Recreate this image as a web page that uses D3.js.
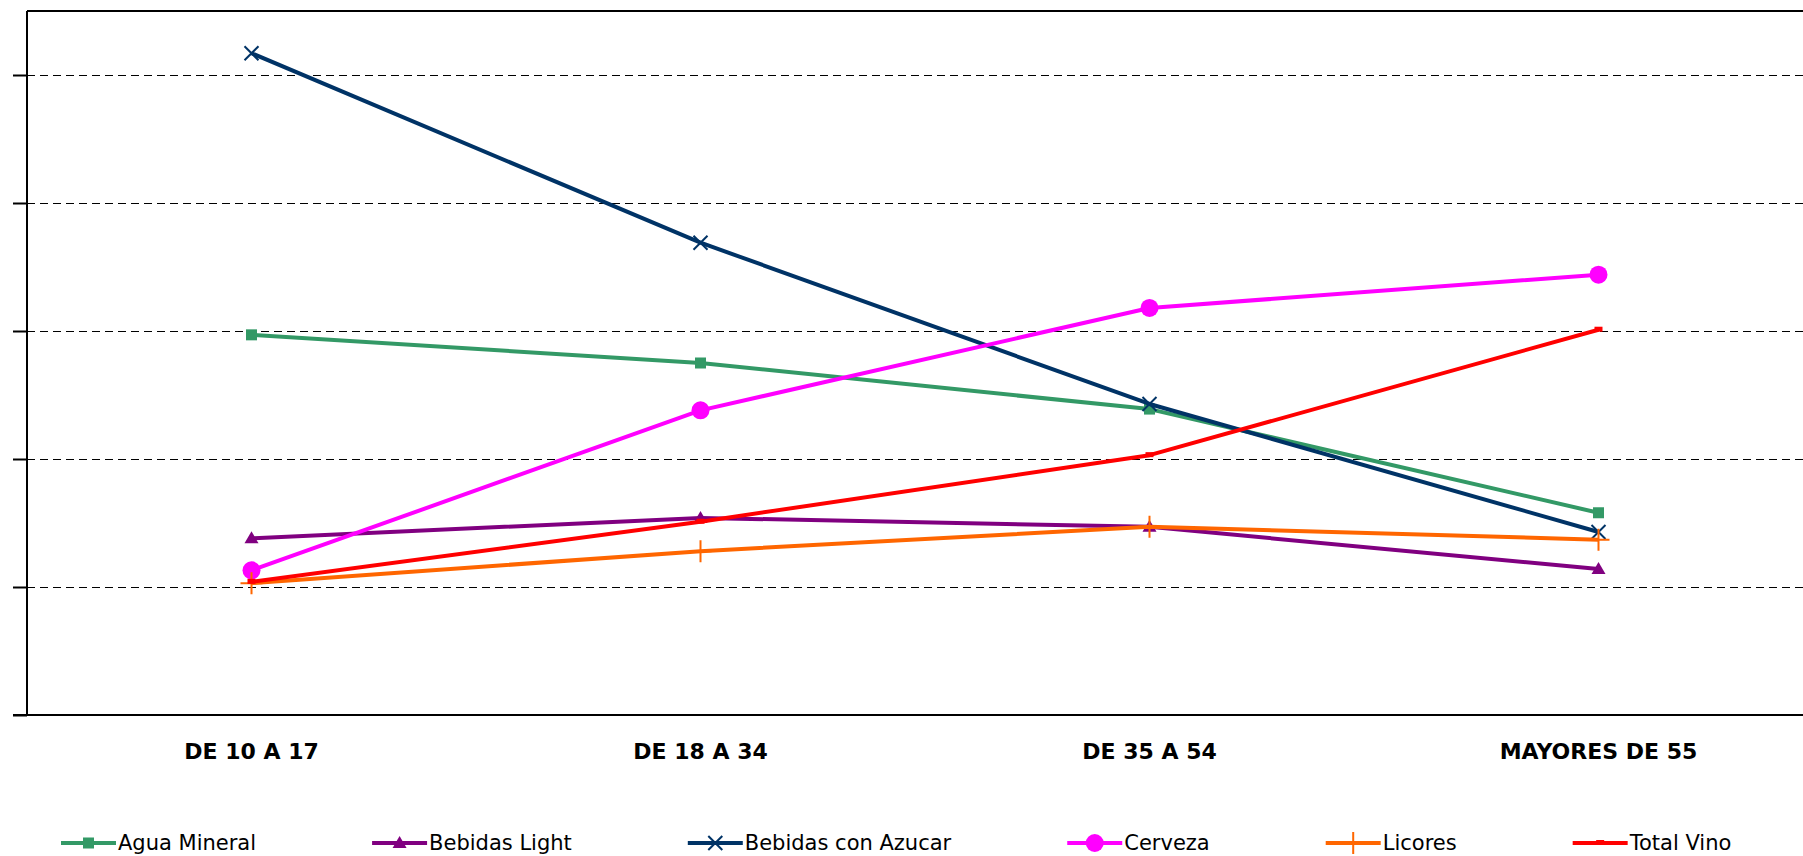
<!DOCTYPE html>
<html>
<head>
<meta charset="utf-8">
<script src="https://cdn.jsdelivr.net/npm/d3@7"></script>
<style>
  html, body { margin: 0; padding: 0; background: #fff; }
  svg { display: block; }
</style>
</head>
<body>
<div id="chart"></div>
<script>
// age groups on the x axis
const categories = ["DE 10 A 17", "DE 18 A 34", "DE 35 A 54", "MAYORES DE 55"];

// series values (no y labels shown, units are grid steps)
const aguaMineral = [2.97, 2.75, 2.39, 1.58];
const bebidasLight = [1.38, 1.54, 1.47, 1.14];
const bebidasAzucar = [5.17, 3.69, 2.43, 1.43];
const cerveza = [1.13, 2.38, 3.18, 3.44];
const licores = [1.03, 1.28, 1.47, 1.37];
const totalVino = [1.04, 1.51, 2.03, 3.01];

const yTicks = [0, 1, 2, 3, 4, 5];

const series = [
  { name: "Agua Mineral", values: aguaMineral, color: "#339966", marker: "square" },
  { name: "Bebidas Light", values: bebidasLight, color: "#800080", marker: "triangle" },
  { name: "Bebidas con Azucar", values: bebidasAzucar, color: "#003366", marker: "x" },
  { name: "Cerveza", values: cerveza, color: "#ff00ff", marker: "circle" },
  { name: "Licores", values: licores, color: "#ff6600", marker: "plus" },
  { name: "Total Vino", values: totalVino, color: "#ff0000", marker: "dash" },
];

const width = 1803;
const height = 856;
const margin = { top: 11, left: 27, bottom: 141 };
const plotRight = 1823; // plot area runs past the right edge of the window

const svg = d3
  .select("#chart")
  .append("svg")
  .attr("width", width)
  .attr("height", height);

const x = d3
  .scaleBand()
  .domain(categories)
  .range([margin.left, plotRight])
  .padding(0);
const cx = (c) => x(c) + x.bandwidth() / 2;

const y = d3
  .scaleLinear()
  .domain([0, 5.5])
  .range([height - margin.bottom, margin.top]);

// dashed gridlines
svg
  .append("g")
  .selectAll("line")
  .data(yTicks.filter((d) => d > 0))
  .join("line")
  .attr("x1", margin.left)
  .attr("x2", width)
  .attr("y1", (d) => Math.round(y(d)) + 0.5)
  .attr("y2", (d) => Math.round(y(d)) + 0.5)
  .attr("stroke", "#000")
  .attr("stroke-width", 1)
  .attr("stroke-dasharray", "8,5");

// frame: top border, left axis, bottom axis
svg
  .append("line")
  .attr("x1", margin.left)
  .attr("x2", width)
  .attr("y1", margin.top)
  .attr("y2", margin.top)
  .attr("stroke", "#000")
  .attr("stroke-width", 2);

const yAxis = svg
  .append("g")
  .attr("transform", `translate(${margin.left},0)`)
  .call(d3.axisLeft(y).tickValues(yTicks).tickSize(14).tickFormat(""));
yAxis.select(".domain").attr("stroke", "#000").attr("stroke-width", 2).attr("d", `M0,${margin.top}V${y(0)}`);
yAxis.selectAll(".tick line").attr("stroke", "#000").attr("stroke-width", 2);

svg
  .append("line")
  .attr("x1", margin.left - 14)
  .attr("x2", width)
  .attr("y1", y(0))
  .attr("y2", y(0))
  .attr("stroke", "#000")
  .attr("stroke-width", 2);

// category labels
svg
  .append("g")
  .selectAll("text")
  .data(categories)
  .join("text")
  .attr("x", (d) => cx(d))
  .attr("y", y(0) + 44)
  .attr("text-anchor", "middle")
  .style("font-family", "'DejaVu Sans', Verdana, sans-serif")
  .style("font-weight", "bold")
  .style("font-size", "22px")
  .attr("fill", "#000")
  .text((d) => d);

function drawMarker(g, type, color) {
  if (type === "square") {
    g.append("rect")
      .attr("x", -5.5)
      .attr("y", -5.5)
      .attr("width", 11)
      .attr("height", 11)
      .attr("fill", color);
  } else if (type === "triangle") {
    g.append("path").attr("d", "M0,-7L7,5L-7,5Z").attr("fill", color);
  } else if (type === "circle") {
    g.append("circle").attr("r", 9).attr("fill", color);
  } else if (type === "x") {
    g.append("path")
      .attr("d", "M-7,-7L7,7M-7,7L7,-7")
      .attr("stroke", color)
      .attr("stroke-width", 2)
      .attr("fill", "none");
  } else if (type === "plus") {
    g.append("path")
      .attr("d", "M0,-11V11M-11,0H11")
      .attr("stroke", color)
      .attr("stroke-width", 2)
      .attr("fill", "none");
  } else if (type === "dash") {
    g.append("rect")
      .attr("x", -4)
      .attr("y", -3)
      .attr("width", 8)
      .attr("height", 5)
      .attr("fill", color);
  }
}

const line = d3
  .line()
  .x((d, i) => cx(categories[i]))
  .y((d) => y(d));

const seriesG = svg
  .append("g")
  .selectAll("g")
  .data(series)
  .join("g");

seriesG
  .append("path")
  .attr("d", (d) => line(d.values))
  .attr("fill", "none")
  .attr("stroke", (d) => d.color)
  .attr("stroke-width", 4)
  .attr("stroke-linejoin", "round");

seriesG.each(function (s) {
  d3.select(this)
    .selectAll("g.pt")
    .data(s.values)
    .join("g")
    .attr("class", "pt")
    .attr("transform", (d, i) => `translate(${cx(categories[i])},${y(d)})`)
    .each(function () {
      drawMarker(d3.select(this), s.marker, s.color);
    });
});

// legend, items laid out after each other by measured text width
const legend = svg.append("g").attr("transform", `translate(0, 843)`);
let lx = 61;
series.forEach((s) => {
  const item = legend.append("g").attr("transform", `translate(${lx},0)`);
  item
    .append("line")
    .attr("x1", 0)
    .attr("x2", 55)
    .attr("stroke", s.color)
    .attr("stroke-width", 4);
  const m = item.append("g").attr("transform", "translate(27.5,0)");
  drawMarker(m, s.marker, s.color);
  const t = item
    .append("text")
    .attr("x", 57)
    .attr("y", 7)
    .style("font-family", "'DejaVu Sans', Verdana, sans-serif")
    .style("font-size", "21px")
    .attr("fill", "#000")
    .text(s.name);
  lx += 57 + t.node().getComputedTextLength() + 116;
});
</script>
</body>
</html>
